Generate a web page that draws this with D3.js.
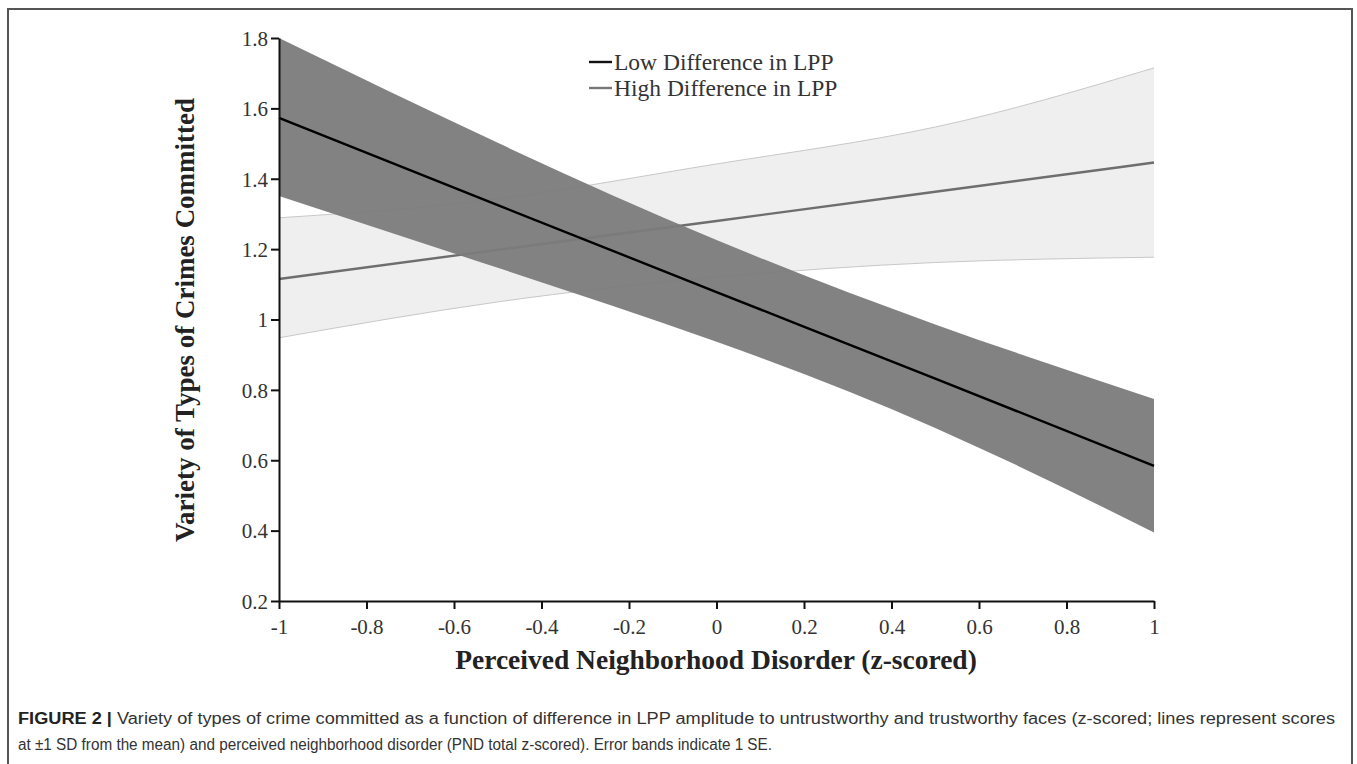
<!DOCTYPE html>
<html>
<head>
<meta charset="utf-8">
<script src="https://cdn.jsdelivr.net/npm/d3@7"></script>
<style>
  body { margin: 0; background: #fff; }
  svg { display: block; }
</style>
</head>
<body>
<div id="chart"></div>
<script>
// values
const xs = [-1, -0.5, 0, 0.5, 1];
const lowMean  = [1.573, 1.325, 1.078, 0.832, 0.584];
const lowUpper = [1.800, 1.502, 1.226, 0.986, 0.774];
const lowLower = [1.351, 1.147, 0.937, 0.692, 0.395];
const highMean  = [1.115, 1.198, 1.280, 1.363, 1.446];
const highUpper = [1.289, 1.343, 1.442, 1.547, 1.715];
const highLower = [0.948, 1.050, 1.120, 1.162, 1.177];
const xTicks = [-1, -0.8, -0.6, -0.4, -0.2, 0, 0.2, 0.4, 0.6, 0.8, 1];
const yTicks = [0.2, 0.4, 0.6, 0.8, 1, 1.2, 1.4, 1.6, 1.8];
const legendLabels = ['Low Difference in LPP', 'High Difference in LPP'];

const W = 1357, H = 764;
const svg = d3.select('#chart').append('svg').attr('width', W).attr('height', H);

// outer frame
svg.append('rect')
  .attr('x', 8).attr('y', 9).attr('width', 1344).attr('height', 780)
  .attr('fill', 'none').attr('stroke', '#555').attr('stroke-width', 2);

const x = d3.scaleLinear().domain([-1, 1]).range([279, 1154]);
const y = d3.scaleLinear().domain([0.2, 1.8]).range([601, 38]);

const pts = (a) => xs.map((v, i) => [v, a[i]]);
const area = d3.area()
  .x((d, i) => x(xs[i]))
  .y0(d => y(d[0]))
  .y1(d => y(d[1]))
  .curve(d3.curveNatural);
const line = d3.line().x(d => x(d[0])).y(d => y(d[1])).curve(d3.curveNatural);

// high difference band (light)
svg.append('path')
  .datum(xs.map((v, i) => [highLower[i], highUpper[i]]))
  .attr('d', area)
  .attr('fill', '#efefef');
[highUpper, highLower].forEach(a => {
  svg.append('path').datum(pts(a)).attr('d', line)
    .attr('fill', 'none').attr('stroke', '#c8c8c8').attr('stroke-width', 1);
});
svg.append('path').datum(pts(highMean)).attr('d', line)
  .attr('fill', 'none').attr('stroke', '#6e6e6e').attr('stroke-width', 2.4);

// low difference band (dark), slightly see-through
svg.append('path')
  .datum(xs.map((v, i) => [lowLower[i], lowUpper[i]]))
  .attr('d', area)
  .attr('fill', '#7b7b7b').attr('fill-opacity', 0.95);

svg.append('path').datum(pts(lowMean)).attr('d', line)
  .attr('fill', 'none').attr('stroke', '#000').attr('stroke-width', 2.4);

// axes
const xAxis = d3.axisBottom(x).tickValues(xTicks).tickSize(8).tickSizeOuter(0)
  .tickFormat(d => String(d));
const yAxis = d3.axisLeft(y).tickValues(yTicks).tickSize(8).tickSizeOuter(0)
  .tickFormat(d => String(d));

const gx = svg.append('g').attr('transform', 'translate(0,601)').call(xAxis);
const gy = svg.append('g').attr('transform', 'translate(279,0)').call(yAxis);
[gx, gy].forEach(g => {
  g.select('.domain').attr('stroke', '#111').attr('stroke-width', 2);
  g.selectAll('.tick line').attr('stroke', '#111').attr('stroke-width', 2);
  g.selectAll('.tick text')
    .attr('font-family', '"Liberation Serif", serif')
    .attr('font-size', 21).attr('fill', '#333');
});
gx.selectAll('.tick text').attr('dy', '1.05em');
gy.selectAll('.tick text').attr('x', -11).attr('dy', '0.35em');

// axis titles
svg.append('text')
  .attr('transform', 'translate(194,320) rotate(-90)')
  .attr('text-anchor', 'middle')
  .attr('font-family', '"Liberation Serif", serif')
  .attr('font-weight', 'bold').attr('font-size', 27).attr('fill', '#222')
  .text('Variety of Types of Crimes Committed');

svg.append('text')
  .attr('x', 716).attr('y', 669)
  .attr('text-anchor', 'middle')
  .attr('font-family', '"Liberation Serif", serif')
  .attr('font-weight', 'bold').attr('font-size', 27.5).attr('fill', '#222')
  .text('Perceived Neighborhood Disorder (z-scored)');

// legend
const legColors = ['#111', '#777'];
legendLabels.forEach((lab, i) => {
  const ly = 62 + i * 26;
  svg.append('line').attr('x1', 589).attr('x2', 612).attr('y1', ly).attr('y2', ly)
    .attr('stroke', legColors[i]).attr('stroke-width', 2.4);
  svg.append('text').attr('x', 614).attr('y', ly + 8)
    .attr('font-family', '"Liberation Serif", serif')
    .attr('font-size', 23.5).attr('fill', '#333')
    .text(lab);
});

// caption
const cap1 = svg.append('text').attr('x', 18).attr('y', 724)
  .attr('font-family', '"Liberation Sans", Arial, sans-serif')
  .attr('font-size', 16).attr('fill', '#333')
  .attr('textLength', 1317).attr('lengthAdjust', 'spacingAndGlyphs');
cap1.append('tspan').attr('font-weight', 'bold').attr('fill', '#222').text('FIGURE 2 | ');
cap1.append('tspan').text('Variety of types of crime committed as a function of difference in LPP amplitude to untrustworthy and trustworthy faces (z-scored; lines represent scores');

svg.append('text').attr('x', 18).attr('y', 750)
  .attr('font-family', '"Liberation Sans", Arial, sans-serif')
  .attr('font-size', 16).attr('fill', '#333')
  .attr('textLength', 754).attr('lengthAdjust', 'spacingAndGlyphs')
  .text('at \u00b11 SD from the mean) and perceived neighborhood disorder (PND total z-scored). Error bands indicate 1 SE.');
</script>
</body>
</html>
